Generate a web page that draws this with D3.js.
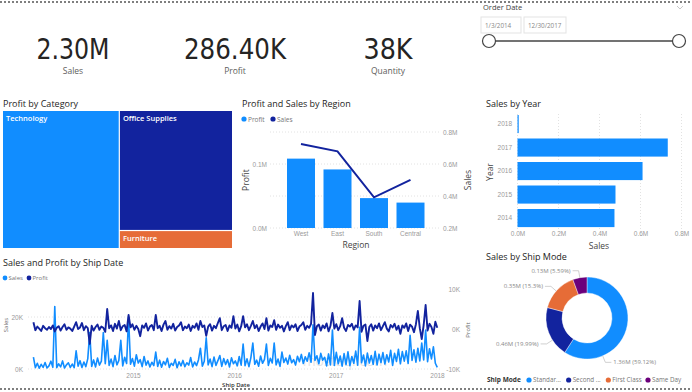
<!DOCTYPE html>
<html><head><meta charset="utf-8">
<script src="https://cdn.jsdelivr.net/npm/d3@7"></script>
<style>
body{margin:0;background:#fff;}
svg{display:block;font-family:'Segoe UI','Open Sans','Noto Sans',sans-serif;}
.ax text{fill:#9a9a9a;font-size:6.5px;}
.ax path,.ax line{display:none;}
</style>
</head><body><svg id="c" width="692" height="392"></svg>
<script>
// ---------------- DATA ----------------
const kpiValues = ["2.30M", "286.40K", "38K"];
const kpiLabels = ["Sales", "Profit", "Quantity"];

const categories = ["Technology", "Office Supplies", "Furniture"];
const categoryProfit = [145.45, 122.49, 18.45]; // K

const regions = ["West", "East", "South", "Central"];
const regionProfit = [108.4, 91.5, 46.7, 39.7];   // K
const regionSales = [725.5, 678.8, 391.7, 501.2];  // K
const regionProfitTicks = [0, 100];
const regionSalesTicks = [200, 400, 600, 800];

const years = ["2018", "2017", "2016", "2015", "2014"];
const yearSales = [6, 733, 610, 478, 473]; // K
const yearTicks = [0, 200, 400, 600, 800];

const shipModes = ["Standard Class", "Second Class", "First Class", "Same Day"];
const shipModeShort = ["Standar...", "Second ...", "First Class", "Same Day"];
const shipModeSales = [1358.2, 459.2, 351.4, 128.4]; // K
const shipModeLabels = ["1.36M (59.12%)", "0.46M (19.99%)", "0.35M (15.3%)", "0.13M (5.59%)"];

// weekly sales / profit by ship date (K), first week starting 2014-01-07
const salesByShip = [
4.6,0.5,2.2,0.3,1.8,0.6,2.5,0.4,1.2,3.0,
0.7,24,0.5,2.0,0.8,3.1,0.4,1.6,2.4,0.6,
1.9,0.5,7.0,1.1,3.2,0.6,2.7,0.9,4.0,14,
1.0,3.5,0.8,4.2,1.5,3.0,14,2.0,11,1.4,
3.8,0.9,5.2,1.6,3.3,11,1.2,4.5,2.1,20,
1.8,4.0,1.1,5.5,2.3,3.6,0.9,4.8,1.5,3.1,
0.8,2.6,1.3,6.5,1.0,3.4,0.7,2.9,1.6,4.1,
0.6,2.2,1.4,3.7,0.5,2.8,1.2,3.3,0.9,2.4,
1.5,4.4,0.8,2.7,1.3,3.5,8.0,1.1,3.0,12,
1.6,3.8,0.9,4.6,1.4,3.2,5.2,1.0,4.0,1.7,
3.6,0.8,4.3,2.0,3.1,1.2,4.8,1.5,9.6,1.3,
3.9,0.9,4.4,10,1.8,3.4,1.1,5.0,2.2,3.7,
9.6,1.4,4.1,2.3,10,1.6,3.8,1.0,6.5,2.5,
4.2,1.9,5.3,2.4,3.6,1.5,4.9,2.8,5.6,2.1,
4.7,3.0,6.2,2.6,17,3.3,5.1,2.0,6.0,3.4,
4.5,1.2,5.8,1.6,15,1.4,6.4,2.0,5.0,1.1,
5.9,1.7,6.6,1.3,4.8,2.2,6.9,1.5,16,2.4,
5.4,1.2,6.1,2.3,5.2,1.8,6.8,1.6,5.7,2.5,
6.3,1.9,5.5,2.7,7.2,1.4,6.0,2.9,7.6,2.0,
6.7,3.0,7.0,2.1,13,3.3,7.4,2.6,8.0,3.1,
10,3.5,15,2.8,7.8,3.9,8.5,2.2,0.6];
const profitByShip = [
1.7,-0.3,0.6,0.1,-0.5,0.8,0.2,-0.2,0.5,0.0,
0.9,-0.6,0.3,0.7,-0.4,0.5,1.2,-0.2,0.4,0.1,
-0.5,0.6,1.7,0.0,0.4,1.5,-0.3,0.7,0.2,-3.7,
0.8,-0.4,0.5,1.1,-0.2,0.6,0.3,-0.7,5.0,0.2,
0.9,-0.5,1.3,0.1,2.0,-0.3,0.7,1.0,-0.6,3.5,
0.4,1.2,-0.2,0.8,0.0,-1.8,0.9,0.3,1.4,-0.4,
0.6,1.0,-0.3,3.5,0.2,0.8,-0.5,1.1,2.0,-0.2,
0.7,0.1,1.3,-0.4,0.5,0.9,1.7,-0.3,0.6,0.2,
1.1,-0.5,0.8,0.3,1.4,-0.2,2.0,0.5,0.9,-1.7,
0.6,1.2,-0.4,0.8,0.2,1.5,2.7,-0.3,0.7,1.0,
-0.5,0.9,0.3,3.2,0.1,1.1,-0.6,0.7,3.2,0.4,
1.2,-0.3,0.8,2.0,0.2,1.0,-0.5,0.6,1.4,0.0,
2.7,-0.4,0.9,0.5,2.2,-0.2,1.1,0.3,0.8,-0.6,
0.7,1.7,-0.3,0.9,0.4,1.2,-0.5,0.6,1.0,1.7,
-0.2,0.8,0.3,1.3,9.0,-1.5,0.7,1.1,-0.4,0.9,
0.2,1.4,-0.6,0.8,4.0,0.1,1.2,-0.3,0.7,2.7,
0.3,-0.5,1.0,0.6,1.3,-0.2,0.9,0.4,7.0,-0.7,
0.8,1.1,-3.0,0.5,1.2,-0.4,0.9,0.2,1.4,-0.3,
0.7,1.7,0.1,-0.6,1.0,0.4,1.3,-0.2,0.8,-1.2,
0.9,0.3,1.4,-0.5,1.1,0.6,-0.8,1.2,4.5,0.2,
-2.5,1.0,6.0,-0.4,1.3,0.5,-1.2,1.8,0.3];
const shipSalesTicks = [0, 20];
const shipProfitTicks = [-10, 0, 10];
const shipYearTicks = ["2015", "2016", "2017", "2018"];

// ---------------- STYLE ----------------
const C_BLUE = "#118DFF", C_NAVY = "#12239E", C_ORANGE = "#E66C37", C_PURPLE = "#6B007B";
const TITLE = "#252423";
const svg = d3.select("#c");

function text(x, y, s, o = {}) {
  const t = svg.append("text").attr("x", x).attr("y", y).text(s)
    .attr("font-size", o.size || 9).attr("fill", o.fill || TITLE)
    .attr("text-anchor", o.anchor || "start");
  if (o.weight) t.attr("font-weight", o.weight);
  if (o.rotate) t.attr("transform", `rotate(-90,${x},${y})`);
  if (o.family) t.attr("font-family", o.family);
  if (o.len) t.attr("textLength", o.len).attr("lengthAdjust", "spacingAndGlyphs");
  return t;
}

// dashed frame lines
[2, 389].forEach(y => svg.append("line").attr("x1", 0).attr("x2", 692).attr("y1", y).attr("y2", y)
  .attr("stroke", "#555").attr("stroke-width", 1.3).attr("stroke-dasharray", "2,2"));

// ---------------- KPI cards ----------------
const kpiCenters = [73, 235, 388], kpiWidths = [73, 102, 49];
kpiValues.forEach((v, i) => {
  text(kpiCenters[i], 58.5, v, {size: 29, anchor: "middle", fill: "#252423",
    family: "'Liberation Sans Narrow','DejaVu Sans Condensed',Roboto,sans-serif", len: kpiWidths[i]});
  text(kpiCenters[i], 74, kpiLabels[i], {size: 8.5, anchor: "middle", fill: "#605E5C"});
});

// ---------------- Slicer ----------------
text(483, 10, "Order Date", {size: 7.5, fill: "#444"});
svg.append("path").attr("d", "M677,6 L680,9 L683,6").attr("fill", "none").attr("stroke", "#bbb").attr("stroke-width", 0.8);
[[481, 40, "1/3/2014"], [524, 42, "12/30/2017"]].forEach(([x, w, s]) => {
  svg.append("rect").attr("x", x).attr("y", 17).attr("width", w).attr("height", 16)
    .attr("fill", "#fff").attr("stroke", "#e3e3e3");
  text(x + 4, 28, s, {size: 6.3, fill: "#888"});
});
svg.append("line").attr("x1", 489).attr("x2", 679).attr("y1", 41).attr("y2", 41).attr("stroke", "#444").attr("stroke-width", 1.5);
[489, 679].forEach(cx => svg.append("circle").attr("cx", cx).attr("cy", 41).attr("r", 6.5)
  .attr("fill", "#fff").attr("stroke", "#444").attr("stroke-width", 1.2));

// ---------------- Treemap ----------------
text(3, 107, "Profit by Category", {size: 9});
const root = d3.hierarchy({children: categories.map((c, i) => ({name: c, value: categoryProfit[i]}))})
  .sum(d => d.value || 0).sort((a, b) => b.value - a.value);
d3.treemap().size([229, 137]).paddingInner(1.2).tile(d3.treemapSquarify)(root);
const catColor = d3.scaleOrdinal().domain(categories).range([C_BLUE, C_NAVY, C_ORANGE]);
const tg = svg.append("g").attr("transform", "translate(3,111)");
root.leaves().forEach(l => {
  tg.append("rect").attr("x", l.x0).attr("y", l.y0).attr("width", l.x1 - l.x0).attr("height", l.y1 - l.y0)
    .attr("fill", catColor(l.data.name));
  tg.append("text").attr("x", l.x0 + 3).attr("y", l.y0 + 10).text(l.data.name)
    .attr("font-size", 7.5).attr("font-weight", 600).attr("fill", "#fff");
});

// ---------------- Profit and Sales by Region ----------------
text(242, 107, "Profit and Sales by Region", {size: 9});
svg.append("circle").attr("cx", 244).attr("cy", 119).attr("r", 2.6).attr("fill", C_BLUE);
text(248, 121.5, "Profit", {size: 6.5, fill: "#777"});
svg.append("circle").attr("cx", 273).attr("cy", 119).attr("r", 2.6).attr("fill", C_NAVY);
text(277, 121.5, "Sales", {size: 6.5, fill: "#777"});

const xR = d3.scaleBand().domain(regions).range([268.75, 442.75]).paddingInner(0.233).paddingOuter(0.5);
const yRP = d3.scaleLinear().domain([0, 100]).range([228, 164]);
const yRS = d3.scaleLinear().domain([200, 800]).range([228, 132]);
const fmtM = d => (d / 1000).toFixed(1) + "M";
regionSalesTicks.forEach(t => svg.append("line").attr("x1", 270).attr("x2", 441).attr("y1", yRS(t)).attr("y2", yRS(t))
  .attr("stroke", "#e2e2e2").attr("stroke-dasharray", "1,2"));
svg.append("g").attr("class", "ax").attr("transform", "translate(268,0)")
  .call(d3.axisLeft(yRP).tickValues(regionProfitTicks).tickFormat(fmtM).tickSize(0).tickPadding(1));
svg.append("g").attr("class", "ax").attr("transform", "translate(443,0)")
  .call(d3.axisRight(yRS).tickValues(regionSalesTicks).tickFormat(fmtM).tickSize(0).tickPadding(0));
svg.selectAll("rect.rb").data(regions).enter().append("rect").attr("class", "rb")
  .attr("x", d => xR(d)).attr("width", xR.bandwidth())
  .attr("y", (d, i) => yRP(regionProfit[i])).attr("height", (d, i) => yRP(0) - yRP(regionProfit[i]))
  .attr("fill", C_BLUE);
svg.append("path").datum(regions)
  .attr("d", d3.line().x(d => xR(d) + xR.bandwidth() / 2).y((d, i) => yRS(regionSales[i])))
  .attr("fill", "none").attr("stroke", C_NAVY).attr("stroke-width", 2);
svg.append("g").attr("class", "ax").attr("transform", "translate(0,228)")
  .call(d3.axisBottom(xR).tickSize(0).tickPadding(3));
text(356, 248, "Region", {size: 8.5, anchor: "middle", fill: "#444"});
text(249, 180, "Profit", {size: 8.5, anchor: "middle", fill: "#444", rotate: true});
text(471, 180, "Sales", {size: 8.5, anchor: "middle", fill: "#444", rotate: true});

// ---------------- Sales by Year ----------------
text(486, 107, "Sales by Year", {size: 9});
const xY = d3.scaleLinear().domain([0, 800]).range([517.5, 681.5]);
const yY = d3.scaleBand().domain(years).range([112.65, 229.45]).paddingInner(0.23).paddingOuter(0.1);
yearTicks.forEach(t => svg.append("line").attr("x1", xY(t)).attr("x2", xY(t)).attr("y1", 114).attr("y2", 229)
  .attr("stroke", "#e2e2e2").attr("stroke-dasharray", "1,2"));
svg.selectAll("rect.yb").data(years).enter().append("rect").attr("class", "yb")
  .attr("x", xY(0)).attr("y", d => yY(d)).attr("height", yY.bandwidth())
  .attr("width", (d, i) => xY(yearSales[i]) - xY(0)).attr("fill", C_BLUE);
svg.append("g").attr("class", "ax").attr("transform", "translate(514,0)")
  .call(d3.axisLeft(yY).tickSize(0).tickPadding(2));
svg.append("g").attr("class", "ax").attr("transform", "translate(0,229)")
  .call(d3.axisBottom(xY).tickValues(yearTicks).tickFormat(fmtM).tickSize(0).tickPadding(2));
text(599, 248.5, "Sales", {size: 8.5, anchor: "middle", fill: "#444"});
text(493, 172, "Year", {size: 8.5, anchor: "middle", fill: "#444", rotate: true});

// ---------------- Sales and Profit by Ship Date ----------------
text(3, 266, "Sales and Profit by Ship Date", {size: 9});
svg.append("circle").attr("cx", 5).attr("cy", 278).attr("r", 2.4).attr("fill", C_BLUE);
text(8.5, 280.2, "Sales", {size: 6, fill: "#777"});
svg.append("circle").attr("cx", 29).attr("cy", 278).attr("r", 2.4).attr("fill", C_NAVY);
text(32.5, 280.2, "Profit", {size: 6, fill: "#777"});

const shipStart = new Date(2014, 0, 7);
const shipDates = salesByShip.map((_, i) => d3.timeDay.offset(shipStart, 7 * i));
const xT = d3.scaleTime().domain([new Date(2015, 0, 1), new Date(2018, 0, 1)]).range([133, 437]);
const yTS = d3.scaleLinear().domain([0, 20]).range([369, 317]);
const yTP = d3.scaleLinear().domain([-10, 10]).range([369, 289]);
shipSalesTicks.forEach(t => svg.append("line").attr("x1", 28).attr("x2", 440).attr("y1", yTS(t)).attr("y2", yTS(t))
  .attr("stroke", "#e2e2e2").attr("stroke-dasharray", "1,2"));
// watermark (behind the lines)
text(345, 366, "mostaql.com", {size: 14, anchor: "middle", fill: "#cfcfcf"}).attr("opacity", 0.55);
svg.append("g").attr("class", "ax").attr("transform", "translate(23,0)")
  .call(d3.axisLeft(yTS).tickValues(shipSalesTicks).tickFormat(d => d + "K").tickSize(0).tickPadding(0));
svg.append("g").attr("class", "ax").attr("transform", "translate(460,0)")
  .call(d3.axisLeft(yTP).tickValues(shipProfitTicks).tickFormat(d => d + "K").tickSize(0).tickPadding(0));
svg.append("g").attr("class", "ax").attr("transform", "translate(0,371)")
  .call(d3.axisBottom(xT).tickValues(shipYearTicks.map(y => new Date(+y, 0, 1))).tickFormat(d3.timeFormat("%Y")).tickSize(0).tickPadding(2));
svg.append("path").datum(shipDates)
  .attr("d", d3.line().x(d => xT(d)).y((d, i) => yTS(salesByShip[i])))
  .attr("fill", "none").attr("stroke", C_BLUE).attr("stroke-width", 1.6).attr("stroke-linejoin", "round");
svg.append("path").datum(shipDates)
  .attr("d", d3.line().x(d => xT(d)).y((d, i) => yTP(profitByShip[i])))
  .attr("fill", "none").attr("stroke", C_NAVY).attr("stroke-width", 1.9).attr("stroke-linejoin", "round");
text(236, 386.5, "Ship Date", {size: 6, anchor: "middle", fill: "#333", weight: 600});
text(8, 325, "Sales", {size: 6, anchor: "middle", fill: "#666", rotate: true});
text(470, 330, "Profit", {size: 6, anchor: "middle", fill: "#666", rotate: true});

// ---------------- Sales by Ship Mode ----------------
text(486, 260, "Sales by Ship Mode", {size: 9});
const modeColor = d3.scaleOrdinal().domain(shipModes).range([C_BLUE, C_NAVY, C_ORANGE, C_PURPLE]);
const pie = d3.pie().sort(null).value((d, i) => shipModeSales[i]);
const arcs = pie(shipModes);
const cx = 587, cy = 318, rIn = 25, rOut = 41;
const arc = d3.arc().innerRadius(rIn).outerRadius(rOut);
const dg = svg.append("g").attr("transform", `translate(${cx},${cy})`);
dg.selectAll("path").data(arcs).enter().append("path").attr("d", arc)
  .attr("fill", d => modeColor(d.data)).attr("stroke", "#fff").attr("stroke-width", 0.4);
// label anchors (fraction along each slice where leader line attaches)
const labelAnchorT = [0.74, 0.34, 0.48, 0.5];
arcs.forEach((a, i) => {
  const ang = a.startAngle + labelAnchorT[i] * (a.endAngle - a.startAngle);
  const p1 = [Math.sin(ang) * rOut, -Math.cos(ang) * rOut];
  const p2 = [Math.sin(ang) * 48, -Math.cos(ang) * 48];
  const right = Math.sin(ang) > 0;
  const p3 = [p2[0] + (right ? 6 : -6), p2[1]];
  dg.append("polyline").attr("points", [p1, p2, p3].map(p => p.join(",")).join(" "))
    .attr("fill", "none").attr("stroke", "#bbb").attr("stroke-width", 0.7);
  dg.append("text").attr("x", p3[0] + (right ? 2 : -2)).attr("y", p3[1] + 2)
    .attr("text-anchor", right ? "start" : "end").attr("font-size", 6).attr("fill", "#888")
    .text(shipModeLabels[i]);
});
// legend
text(487, 382, "Ship Mode", {size: 6.5, fill: "#333", weight: 700});
const lx = d3.scalePoint().domain(shipModes).range([529, 648]);
shipModes.forEach((m, i) => {
  svg.append("circle").attr("cx", lx(m)).attr("cy", 380).attr("r", 2.6).attr("fill", modeColor(m));
  text(lx(m) + 4, 382.3, shipModeShort[i], {size: 6.3, fill: "#777"});
});
</script>
</body></html>
